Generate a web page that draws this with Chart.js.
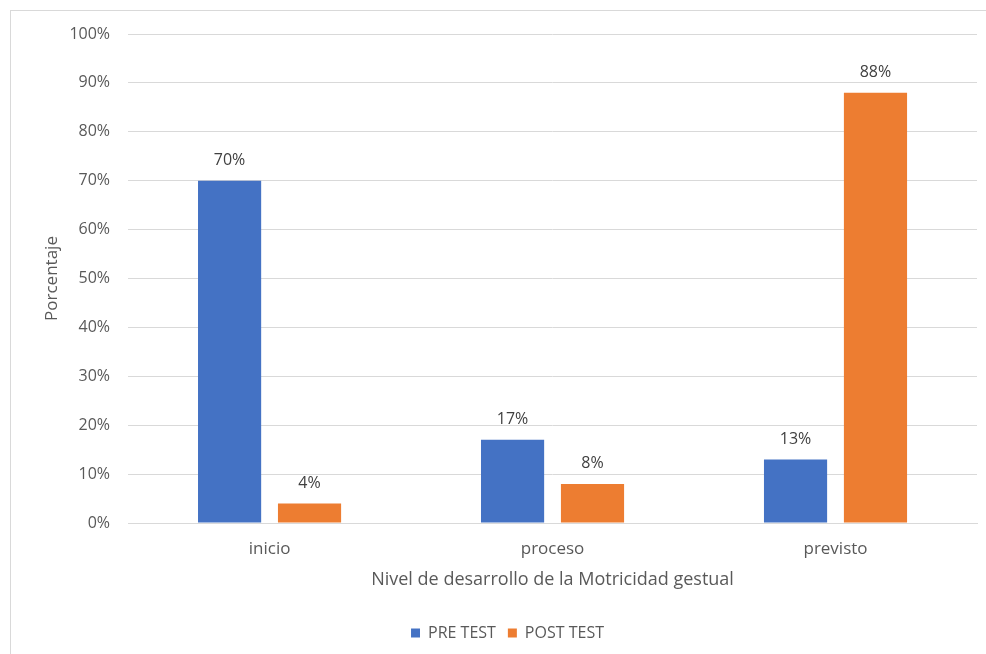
<!DOCTYPE html>
<html>
<head>
<meta charset="utf-8">
<script src="https://cdn.jsdelivr.net/npm/chart.js@4/dist/chart.umd.min.js"></script>
<style>
    html, body { margin: 0; padding: 0; background: #fff; }
    #wrap { position: relative; width: 986px; height: 654px; overflow: hidden; }
    #frame { position: absolute; left: 10px; top: 10px; width: 1000px; height: 700px;
             border-left: 1px solid #d9d9d9; border-top: 1px solid #d9d9d9; }
    canvas { position: absolute; left: 0; top: 0; }
</style>
</head>
<body>
<div id="wrap">
    <div id="frame"></div>
    <canvas id="chart" width="986" height="654"></canvas>
</div>
<script>
// Datos del grafico
const niveles = ['inicio', 'proceso', 'previsto'];
const preTest = [70, 17, 13];
const postTest = [4, 8, 88];
const ticksY = [0, 10, 20, 30, 40, 50, 60, 70, 80, 90, 100];

const fuente = "'Open Sans', 'Liberation Sans', sans-serif";
const gris = '#595959';

// Etiquetas de valor encima de cada barra
const etiquetasBarras = {
    id: 'etiquetasBarras',
    afterDatasetsDraw(chart) {
        const ctx = chart.ctx;
        ctx.save();
        ctx.font = '16px ' + fuente;
        ctx.fillStyle = '#404040';
        ctx.textAlign = 'center';
        ctx.textBaseline = 'middle';
        chart.data.datasets.forEach(function (ds, i) {
            chart.getDatasetMeta(i).data.forEach(function (bar, j) {
                ctx.fillText(ds.data[j] + '%', bar.x, bar.y - 20);
            });
        });
        ctx.restore();
    }
};

new Chart(document.getElementById('chart').getContext('2d'), {
    type: 'bar',
    data: {
        labels: niveles,
        datasets: [{
            label: 'PRE TEST',
            data: preTest,
            backgroundColor: '#4472C4',
            categoryPercentage: 0.565,
            barPercentage: 0.79
        }, {
            label: 'POST TEST',
            data: postTest,
            backgroundColor: '#ED7D31',
            categoryPercentage: 0.565,
            barPercentage: 0.79
        }]
    },
    options: {
        responsive: false,
        animation: false,
        layout: { padding: { left: 38, right: 9, top: 34, bottom: 3 } },
        plugins: {
            legend: {
                position: 'bottom',
                labels: {
                    boxWidth: 9,
                    boxHeight: 9,
                    padding: 12,
                    color: gris,
                    font: { family: fuente, size: 16 }
                }
            },
            tooltip: { enabled: false }
        },
        scales: {
            x: {
                grid: { display: false },
                border: { color: '#d9d9d9' },
                ticks: { color: gris, padding: 8, font: { family: fuente, size: 17 } },
                title: {
                    display: true,
                    text: 'Nivel de desarrollo de la Motricidad gestual',
                    color: gris,
                    padding: { top: 2, bottom: 22 },
                    font: { family: fuente, size: 18 }
                }
            },
            y: {
                min: 0,
                max: 100,
                afterBuildTicks: function (axis) {
                    axis.ticks = ticksY.map(function (v) { return { value: v }; });
                },
                // acercar el titulo a las etiquetas del eje
                afterFit: function (axis) {
                    axis.width -= 15;
                },
                grid: { color: '#d9d9d9', drawTicks: false },
                border: { display: false },
                ticks: {
                    color: gris,
                    padding: 18,
                    font: { family: fuente, size: 16 },
                    callback: function (v) { return v + '%'; }
                },
                title: {
                    display: true,
                    text: 'Porcentaje',
                    color: gris,
                    padding: { bottom: 4 },
                    font: { family: fuente, size: 17 }
                }
            }
        }
    },
    plugins: [etiquetasBarras]
});
</script>
</body>
</html>
